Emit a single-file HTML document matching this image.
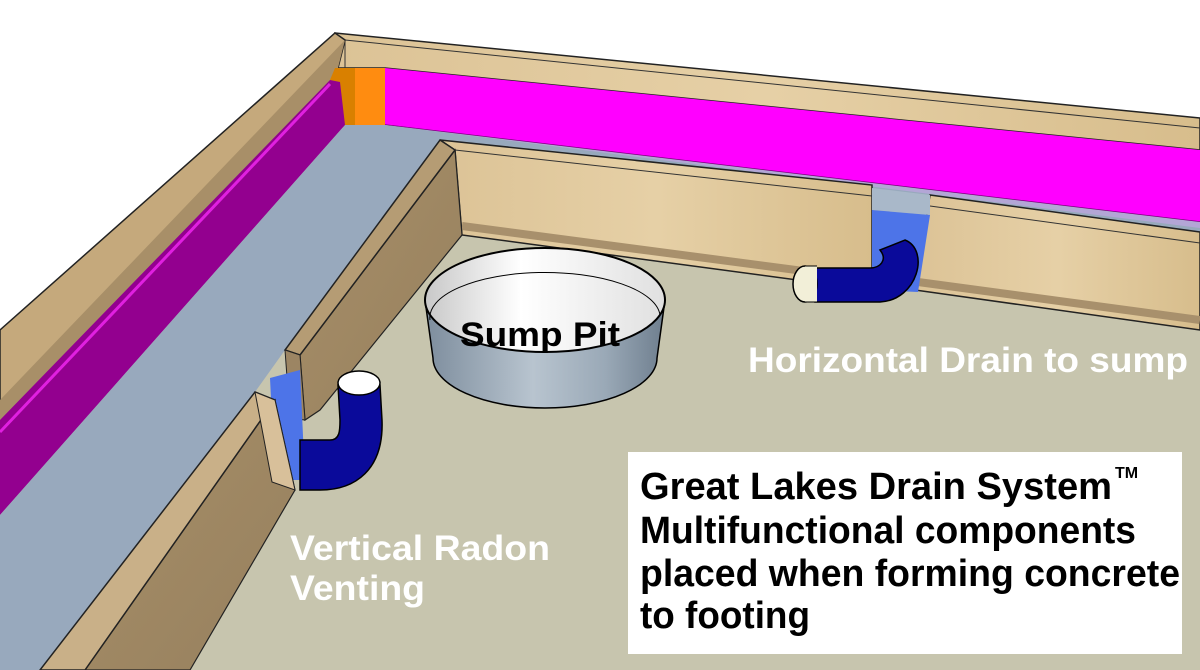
<!DOCTYPE html>
<html><head><meta charset="utf-8"><style>
html,body{margin:0;padding:0;background:#fff;}
svg{display:block;}
</style></head><body>
<svg width="1200" height="670" viewBox="0 0 1200 670" xmlns="http://www.w3.org/2000/svg">
<defs>
<linearGradient id="wood" x1="0" y1="0" x2="1" y2="0"><stop offset="0" stop-color="#dcc396"/><stop offset="0.5" stop-color="#e6d0a6"/><stop offset="1" stop-color="#d7bd8c"/></linearGradient>
<linearGradient id="wdark" x1="0" y1="0" x2="1" y2="1"><stop offset="0" stop-color="#a88f68"/><stop offset="1" stop-color="#96805e"/></linearGradient>
<linearGradient id="cyl" x1="0" y1="0" x2="1" y2="0"><stop offset="0" stop-color="#7d8d9d"/><stop offset="0.45" stop-color="#b8c4cf"/><stop offset="0.75" stop-color="#9aa9b7"/><stop offset="1" stop-color="#6e7e8e"/></linearGradient>
<linearGradient id="pitin" x1="0" y1="0" x2="1" y2="0"><stop offset="0" stop-color="#c8c8c8"/><stop offset="0.4" stop-color="#fff"/><stop offset="1" stop-color="#e0e0e0"/></linearGradient>
</defs>
<polygon points="0,330 335,33 1200,120 1200,670 0,670" fill="#c7c5ae"/>
<polygon points="335,33 1200,118 1200,150 385,68 335,68" fill="url(#wood)" stroke="#222" stroke-width="1.5"/>
<line x1="345" y1="40" x2="1200" y2="128" stroke="#333" stroke-width="1"/>
<line x1="345" y1="40" x2="345" y2="68" stroke="#333" stroke-width="1"/>
<polygon points="335,33 345,40 335,80 0,420 0,330" fill="#c5a97c" stroke="#222" stroke-width="1.5"/>
<polygon points="345,40 335,80 0,425 0,400" fill="#a88f68"/>
<polygon points="335,68 355,68 355,125 340,128 330,80" fill="#d98000"/>
<polygon points="355,68 385,68 385,125 355,125" fill="#ff8c10"/>
<polygon points="385,68 1200,150 1200,222 385,125" fill="#ff00ff"/>
<line x1="385" y1="125" x2="1200" y2="222" stroke="#7a007a" stroke-width="1.5"/>
<polygon points="385,125 1200,222 1200,230 385,130" fill="#b3a6d6"/>
<polygon points="330,80 340,82 345,125 0,515 0,420" fill="#93008f"/>
<line x1="330" y1="84" x2="0" y2="432" stroke="#e020e0" stroke-width="3"/>
<polygon points="345,125 385,125 1200,228 1200,240 440,140 285,350 255,392 40,670 0,670 0,515" fill="#98a9bd"/>
<polygon points="440,140 872,185 872,290 462,235 455,150" fill="url(#wood)" stroke="#222" stroke-width="1.5"/>
<line x1="455" y1="150" x2="872" y2="196" stroke="#333"/>
<line x1="462" y1="226" x2="872" y2="280" stroke="#a8906c" stroke-width="8"/>
<polygon points="930,195 1200,232 1200,330 915,290" fill="url(#wood)" stroke="#222" stroke-width="1.5"/>
<line x1="930" y1="206" x2="1200" y2="243" stroke="#333"/>
<line x1="918" y1="282" x2="1200" y2="320" stroke="#a8906c" stroke-width="8"/>
<polygon points="872,188 930,195 930,215 872,210" fill="#a9b8c9"/>
<polygon points="872,210 930,215 918,292 872,290" fill="#4d74e8"/>
<path d="M905,240 C930,250 918,300 880,302 L815,302 L815,268 L870,268 C880,268 888,260 880,250 Z" fill="#0a0a9a" stroke="#000" stroke-width="1.5"/>
<ellipse cx="805" cy="284" rx="12" ry="18" fill="#f2efd8" stroke="#000" stroke-width="1.5"/>
<rect x="805" y="266" width="12" height="36" fill="#f2efd8"/>
<line x1="805" y1="266" x2="817" y2="266" stroke="#000"/><line x1="805" y1="302" x2="817" y2="302" stroke="#000"/>
<polygon points="455,150 462,235 320,410 305,420 300,355" fill="url(#wdark)" stroke="#222" stroke-width="1.2"/>
<polygon points="440,140 455,150 300,355 285,350" fill="#b59c74" stroke="#222" stroke-width="1.5"/>
<polygon points="285,350 300,355 305,420 290,418" fill="#9c8563" stroke="#222" stroke-width="1"/>
<polygon points="270,378 300,370 305,480 275,480" fill="#4d74e8"/>
<path d="M300,440 L330,440 C340,440 340,430 340,420 L338,385 L380,385 L382,420 C384,470 355,490 320,490 L300,490 Z" fill="#0a0a9a" stroke="#000" stroke-width="1.5"/>
<ellipse cx="359" cy="383" rx="21" ry="12" fill="#fff" stroke="#000" stroke-width="1.5"/>
<polygon points="275,400 295,490 190,670 85,670" fill="url(#wdark)" stroke="#222" stroke-width="1.2"/>
<polygon points="255,392 275,400 85,670 40,670" fill="#c9b088" stroke="#222" stroke-width="1.5"/>
<polygon points="255,392 275,400 295,490 272,482" fill="#d8c09a" stroke="#222" stroke-width="1"/>
<path d="M425,300 L433,358 A112,50 0 0 0 657,358 L665,300 Z" fill="url(#cyl)" stroke="#000" stroke-width="1.5"/>
<ellipse cx="545" cy="300" rx="120" ry="52" fill="url(#pitin)" stroke="#000" stroke-width="2"/>
<path d="M430,320 A115,45 0 0 1 660,315" fill="none" stroke="#000" stroke-width="1"/>
<text x="460" y="346" font-family="Liberation Sans, sans-serif" font-weight="bold" font-size="34" fill="#000" textLength="160" lengthAdjust="spacingAndGlyphs">Sump Pit</text>
<text x="748" y="372" font-family="Liberation Sans, sans-serif" font-weight="bold" font-size="35" fill="#fff" textLength="440" lengthAdjust="spacingAndGlyphs">Horizontal Drain to sump</text>
<text x="290" y="560" font-family="Liberation Sans, sans-serif" font-weight="bold" font-size="35" fill="#fff" textLength="260" lengthAdjust="spacingAndGlyphs">Vertical Radon</text>
<text x="290" y="600" font-family="Liberation Sans, sans-serif" font-weight="bold" font-size="35" fill="#fff" textLength="135" lengthAdjust="spacingAndGlyphs">Venting</text>
<rect x="628" y="452" width="554" height="202" fill="#fff"/>
<g font-family="Liberation Sans, sans-serif" font-weight="bold" font-size="38" fill="#000">
<text x="640" y="499" textLength="472" lengthAdjust="spacingAndGlyphs">Great Lakes Drain System</text>
<text x="1115" y="478" font-size="16">TM</text>
<text x="640" y="543" textLength="496" lengthAdjust="spacingAndGlyphs">Multifunctional components</text>
<text x="640" y="586" textLength="540" lengthAdjust="spacingAndGlyphs">placed when forming concrete</text>
<text x="640" y="628" textLength="170" lengthAdjust="spacingAndGlyphs">to footing</text>
</g>
</svg>
</body></html>
